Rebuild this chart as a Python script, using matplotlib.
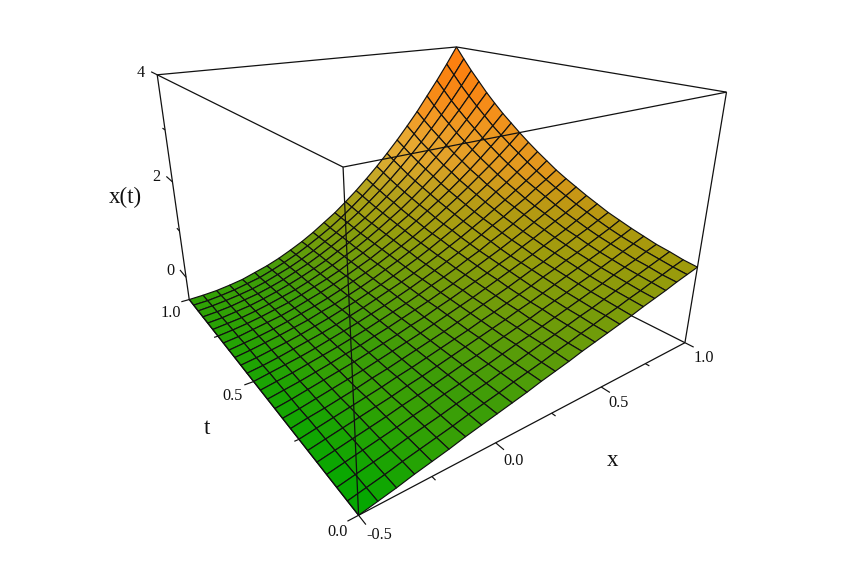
import numpy as np, matplotlib
matplotlib.use('Agg')
import matplotlib.pyplot as plt

# --- data ---
x_values = [-0.5 + 1.5 * i / 24 for i in range(25)]
t_values = [i / 24 for i in range(25)]
# surface height in hundredths, one row per t value, one column per x value
z_row_00 = [-50,-44,-38,-31,-25,-19,-12,-6,0,6,12,19,25,31,38,44,50,56,62,69,75,81,88,94,100]
z_row_01 = [-50,-44,-38,-31,-25,-19,-13,-6,0,6,13,19,25,32,38,45,51,58,64,71,77,84,90,97,103]
z_row_02 = [-50,-44,-38,-32,-25,-19,-13,-6,0,6,13,19,26,33,39,46,53,59,66,73,80,87,94,101,108]
z_row_03 = [-50,-44,-38,-32,-26,-19,-13,-6,0,7,13,20,27,33,40,47,54,61,68,75,83,90,97,105,112]
z_row_04 = [-50,-44,-38,-32,-26,-19,-13,-7,0,7,13,20,27,34,41,49,56,63,71,78,86,94,102,110,118]
z_row_05 = [-50,-44,-38,-32,-26,-20,-13,-7,0,7,14,21,28,35,43,50,58,66,74,82,90,98,107,115,124]
z_row_06 = [-50,-44,-38,-32,-26,-20,-13,-7,0,7,14,21,29,36,44,52,60,69,77,86,94,103,112,121,131]
z_row_07 = [-50,-44,-39,-33,-27,-20,-14,-7,0,7,14,22,30,38,46,54,63,72,80,90,99,109,118,128,138]
z_row_08 = [-50,-45,-39,-33,-27,-21,-14,-7,0,7,15,23,31,39,48,57,66,75,84,94,104,114,125,136,147]
z_row_09 = [-50,-45,-39,-33,-27,-21,-14,-7,0,8,15,24,32,41,50,59,69,78,89,99,110,121,132,144,156]
z_row_10 = [-50,-45,-40,-34,-28,-21,-15,-7,0,8,16,24,33,42,52,62,72,82,93,104,116,128,140,153,166]
z_row_11 = [-50,-45,-40,-34,-28,-22,-15,-8,0,8,16,25,35,44,54,65,75,87,98,110,123,135,149,162,176]
z_row_12 = [-50,-45,-40,-35,-29,-22,-15,-8,0,8,17,26,36,46,57,68,79,91,104,116,130,143,158,172,187]
z_row_13 = [-50,-46,-41,-35,-29,-23,-16,-8,0,9,18,27,37,48,59,71,83,96,109,123,137,152,167,183,200]
z_row_14 = [-50,-46,-41,-36,-30,-23,-16,-8,0,9,18,28,39,50,62,75,88,101,115,130,146,161,178,195,213]
z_row_15 = [-50,-46,-41,-36,-30,-24,-16,-9,0,9,19,30,41,53,65,78,92,107,122,138,154,171,189,208,227]
z_row_16 = [-50,-46,-42,-37,-31,-24,-17,-9,0,10,20,31,43,55,68,82,97,113,129,146,164,182,201,221,242]
z_row_17 = [-50,-47,-42,-37,-32,-25,-17,-9,0,10,21,32,45,58,72,87,103,119,136,154,173,193,214,235,258]
z_row_18 = [-50,-47,-43,-38,-32,-26,-18,-9,0,10,22,34,47,61,76,91,108,126,144,164,184,205,227,250,274]
z_row_19 = [-50,-47,-44,-39,-33,-26,-19,-10,0,11,23,35,49,64,80,96,114,133,153,173,195,218,242,267,292]
z_row_20 = [-50,-48,-44,-40,-34,-27,-19,-10,0,11,24,37,51,67,84,102,120,140,162,184,207,231,257,284,311]
z_row_21 = [-50,-48,-45,-40,-35,-28,-20,-10,0,12,25,39,54,70,88,107,127,148,171,195,220,246,273,302,332]
z_row_22 = [-50,-48,-45,-41,-36,-29,-20,-11,0,12,26,40,57,74,93,113,134,157,181,206,233,261,290,321,353]
z_row_23 = [-50,-49,-46,-42,-36,-30,-21,-11,0,13,27,42,59,78,98,119,142,166,192,219,247,277,309,342,376]
z_row_24 = [-50,-49,-47,-43,-38,-30,-22,-12,0,13,28,45,62,82,103,126,150,176,203,232,262,295,328,363,400]
z_rows = [z_row_00,z_row_01,z_row_02,z_row_03,z_row_04,z_row_05,z_row_06,z_row_07,z_row_08,
          z_row_09,z_row_10,z_row_11,z_row_12,z_row_13,z_row_14,z_row_15,z_row_16,z_row_17,
          z_row_18,z_row_19,z_row_20,z_row_21,z_row_22,z_row_23,z_row_24]
x_ticks = [-0.5,-0.25,0,0.25,0.5,0.75,1]
x_major = [-0.5,0,0.5,1]
t_ticks = [0,0.25,0.5,0.75,1]
t_major = [0,0.5,1]
z_ticks = [0,1,2,3,4]
z_major = [0,2,4]
x_limits = (-0.5,1); t_limits = (0,1); z_limits = (-0.5,4)

W,H=861,574
plt.rcParams['font.family']=['Liberation Serif','DejaVu Serif']
fig=plt.figure(figsize=(W/100,H/100),dpi=100,facecolor='white')
el,az,ro,la,lb,lz,S,cx,cy=20.938,-125.46,-0.028885,0.40428,0.40508,1.5514,121.78,420.86,211.13
ax=fig.add_axes([(cx-S/2)/W,(H-cy-S/2)/H,S/W,S/H],projection='3d',computed_zorder=False)
ax.set_axis_off()
ax.patch.set_alpha(0)
ax.set_xlim(*x_limits);ax.set_ylim(*t_limits);ax.set_zlim(*z_limits)
ax.view_init(elev=el,azim=az,roll=ro)
ax.set_box_aspect((np.exp(la),np.exp(lb),1),zoom=np.exp(lz))

X,T=np.meshgrid(x_values,t_values)
Z=np.array(z_rows)/100

# colour: height ramp with a soft highlight on the far, t = 1 side
zc=(Z[:-1,:-1]+Z[1:,:-1]+Z[:-1,1:]+Z[1:,1:])/4
tc=(T[:-1,:-1]+T[1:,:-1]+T[:-1,1:]+T[1:,1:])/4
s=zc+0.3*tc
R=np.interp(s,[-.5,-.16,0,.46,1,1.4,2,3,4.3],[0,55,60,110,160,180,225,245,255])
G=np.interp(s,[-.5,0,1,2,4.3],[168,157,155,142,125])
B=np.interp(s,[-.5,0,1,2,4.3],[0,8,12,18,15])
h=tc**2*np.exp(-((zc-1.9)/0.9)**2)
fc=np.dstack([R,G+32*h,B+35*h,np.full(R.shape,255)])/255
fc=np.clip(fc,0,1)

INK='#111111'
def L(p,q,z,lw=0.9):
    ax.plot(*zip(p,q),color=INK,lw=lw,zorder=z,clip_on=False,solid_capstyle='butt')
x0,x1=x_limits;t0,t1=t_limits;z0,z1=z_limits
for p,q in [((x0,t1,z1),(x1,t1,z1)),((x1,t1,z1),(x1,t0,z1)),((x1,t0,z0),(x1,t1,z0))]:
    L(p,q,1)
surf=ax.plot_surface(X,T,Z,facecolors=fc,rstride=1,cstride=1,shade=False,edgecolor=INK,linewidth=0.85,antialiased=True,zorder=2)
surf.set_clip_on(False)
for p,q in [((x0,t0,z0),(x1,t0,z0)),((x0,t0,z0),(x0,t1,z0)),((x0,t0,z0),(x0,t0,z1)),
            ((x1,t0,z0),(x1,t0,z1)),((x0,t1,z0),(x0,t1,z1)),((x0,t0,z1),(x1,t0,z1)),((x0,t0,z1),(x0,t1,z1))]:
    L(p,q,3)
for v in x_ticks:
    d=.026 if v in x_major else .012
    L((v,t0,z0),(v,t0-d,z0),3,.85)
for v in t_ticks:
    d=.035 if v in t_major else .016
    L((x0,v,z0),(x0-d,v,z0),3,.85)
for v in z_ticks:
    d=.06 if v in z_major else .025
    L((x0,t1,v),(x0,t1+d,v),3,.85)

def tx(px,py,s,fs=11.7):
    fig.text(px/W,1-py/H,s,ha='center',va='center',fontsize=fs,color=INK)
for px,py,s in [(141,73,'4'),(156,177,'2'),(170,271,'0'),(171,313,'1.0'),(233,396,'0.5'),(338,532,'0.0'),
                (379,535,'-0.5'),(514,461,'0.0'),(619,403,'0.5'),(704,358,'1.0')]:
    tx(px,py,s)
for px,py,s in [(125,197,'x(t)'),(207,429,'t'),(613,461,'x')]:
    tx(px,py,s,16.5)
fig.savefig('out.png',dpi=100,facecolor='white')
